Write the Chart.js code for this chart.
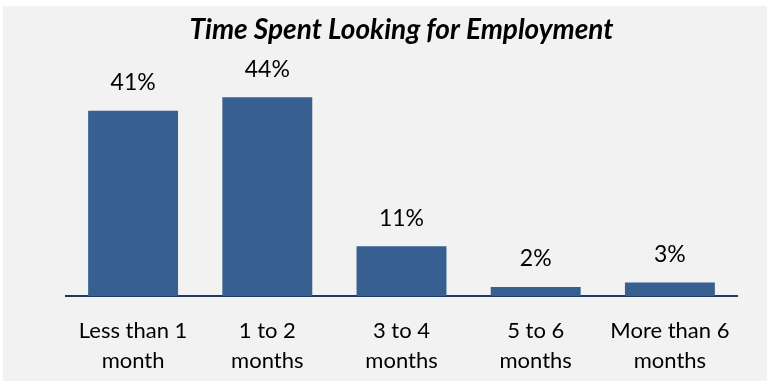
<!DOCTYPE html>
<html>
<head>
<meta charset="utf-8">
<script src="https://cdn.jsdelivr.net/npm/chart.js@4"></script>
<style>
  html, body { margin:0; padding:0; background:#fff; }
  .wrap { position:absolute; left:3px; top:6px; width:764px; height:375px; background:#f2f2f2; }
</style>
</head>
<body>
<div class="wrap"><canvas id="c" width="764" height="375"></canvas></div>
<script>
  const categories = [['Less than 1', 'month'], ['1 to 2', 'months'], ['3 to 4', 'months'], ['5 to 6', 'months'], ['More than 6', 'months']];
  const percentValues = [41, 44, 11, 2, 3];
  const valueLabels = ['41%', '44%', '11%', '2%', '3%'];

  // labels above bars
  const barLabels = {
    id: 'barLabels',
    afterDatasetsDraw(chart) {
      const ctx = chart.ctx;
      const meta = chart.getDatasetMeta(0);
      ctx.save();
      ctx.font = '23px Lato';
      ctx.fillStyle = '#000';
      ctx.textAlign = 'center';
      ctx.textBaseline = 'middle';
      meta.data.forEach((bar, i) => {
        ctx.fillText(valueLabels[i], bar.x, bar.y - 28);
      });
      ctx.restore();
    }
  };

  new Chart(document.getElementById('c'), {
    type: 'bar',
    data: {
      labels: categories,
      datasets: [{
        data: percentValues,
        backgroundColor: '#375f8f',
        barPercentage: 0.67,
        categoryPercentage: 1
      }]
    },
    options: {
      responsive: false,
      animation: false,
      layout: { padding: { left: 63, right: 30, top: 0, bottom: 0 } },
      plugins: {
        legend: { display: false },
        tooltip: { enabled: false },
        title: {
          display: true,
          text: 'Time Spent Looking for Employment',
          color: '#000',
          font: { family: 'Lato', size: 28, weight: 'bold', style: 'italic', lineHeight: 1.2 },
          padding: { top: 7, bottom: 23.5 }
        }
      },
      scales: {
        x: {
          grid: { display: false },
          border: { display: true, color: '#1f3a5f', width: 2 },
          ticks: { color: '#000', font: { family: 'Lato', size: 22, lineHeight: 30 / 22 }, padding: 12, maxRotation: 0, autoSkip: false },
          afterFit(scale) { scale.height = 85; }
        },
        y: {
          display: false,
          min: 0,
          max: 50
        }
      }
    },
    plugins: [barLabels]
  });
</script>
</body>
</html>
